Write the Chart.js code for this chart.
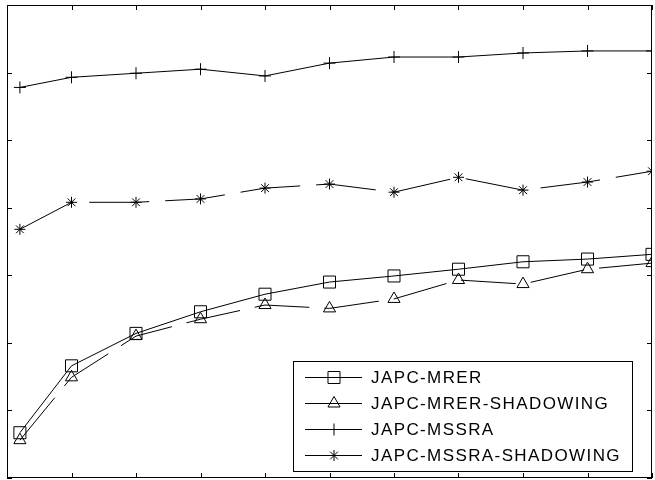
<!DOCTYPE html>
<html>
<head>
<meta charset="utf-8">
<script src="https://cdn.jsdelivr.net/npm/chart.js@4/dist/chart.umd.min.js"></script>
<style>
  html, body { margin: 0; padding: 0; background: #fff; }
  #wrap { width: 655px; height: 480px; }
</style>
</head>
<body>
<div id="wrap"><canvas id="chart"></canvas></div>
<script>
// x positions of the samples (axis runs 0..100, tick every 10)
const xValues = [2, 10, 20, 30, 40, 50, 60, 70, 80, 90, 100];

const mrer = [0.67, 1.66, 2.14, 2.46, 2.72, 2.90, 2.99, 3.09, 3.20, 3.24, 3.31];
const mrerShadowing = [0.56, 1.49, 2.10, 2.35, 2.56, 2.51, 2.65, 2.93, 2.87, 3.09, 3.18];
const mssra = [5.78, 5.93, 5.99, 6.05, 5.95, 6.14, 6.23, 6.23, 6.29, 6.32, 6.32];
const mssraShadowing = [3.68, 4.08, 4.08, 4.13, 4.29, 4.35, 4.23, 4.45, 4.26, 4.38, 4.54];

const seriesNames = ['JAPC-MRER', 'JAPC-MRER-SHADOWING', 'JAPC-MSSRA', 'JAPC-MSSRA-SHADOWING'];

function toPoints(values) {
    return values.map((v, i) => ({ x: xValues[i], y: v }));
}

function makeSet(label, values, style, radius, dash) {
    return {
        label: label,
        data: toPoints(values),
        borderColor: '#000',
        borderWidth: 1,
        borderDash: dash,
        backgroundColor: 'rgba(0,0,0,0)',
        pointStyle: style,
        pointRadius: radius,
        pointBorderColor: '#000',
        pointBorderWidth: 1,
        pointBackgroundColor: 'rgba(0,0,0,0)',
        tension: 0,
        fill: false
    };
}

const datasets = [
    makeSet(seriesNames[0], mrer, 'rect', 8.5, []),
    makeSet(seriesNames[1], mrerShadowing, 'triangle', 7, [55, 15]),
    makeSet(seriesNames[2], mssra, 'cross', 6, []),
    makeSet(seriesNames[3], mssraShadowing, 'star', 5.5, [60, 16])
];

// box, inward ticks on all four sides, and the boxed legend
const framePlugin = {
    id: 'frame',
    afterDraw(chart) {
        const ctx = chart.ctx;
        const area = chart.chartArea;
        const xs = chart.scales.x;
        const ys = chart.scales.y;
        const len = 5;

        ctx.save();
        ctx.strokeStyle = '#000';
        ctx.lineWidth = 1;
        ctx.setLineDash([]);
        ctx.strokeRect(Math.round(area.left) + 0.5, Math.round(area.top) + 0.5,
            Math.round(area.right - area.left) - 1, Math.round(area.bottom - area.top) - 1);

        ctx.beginPath();
        xs.ticks.forEach(t => {
            const px = Math.round(xs.getPixelForValue(t.value)) + 0.5;
            ctx.moveTo(px, area.bottom);
            ctx.lineTo(px, area.bottom - len);
            ctx.moveTo(px, area.top);
            ctx.lineTo(px, area.top + len);
        });
        ys.ticks.forEach(t => {
            const py = Math.round(ys.getPixelForValue(t.value)) + 0.5;
            ctx.moveTo(area.left, py);
            ctx.lineTo(area.left + len, py);
            ctx.moveTo(area.right, py);
            ctx.lineTo(area.right - len, py);
        });
        ctx.stroke();

        // legend
        const boxL = 293, boxT = 361, boxR = 632, boxB = 471;
        ctx.fillStyle = '#fff';
        ctx.fillRect(boxL, boxT, boxR - boxL, boxB - boxT);
        ctx.strokeRect(boxL + 0.5, boxT + 0.5, boxR - boxL, boxB - boxT);

        ctx.font = '17px "Liberation Sans", Arial, sans-serif';
        ctx.letterSpacing = '1.4px';
        ctx.textBaseline = 'alphabetic';
        chart.data.datasets.forEach((ds, i) => {
            const y = 377 + i * 26;
            ctx.beginPath();
            ctx.moveTo(305, y + 0.5);
            ctx.lineTo(362, y + 0.5);
            ctx.stroke();
            ctx.fillStyle = 'rgba(0,0,0,0)';
            Chart.helpers.drawPoint(ctx, {
                pointStyle: ds.pointStyle,
                radius: ds.pointRadius,
                rotation: 0,
                borderWidth: 1
            }, 334, y + 0.5);
            ctx.fillStyle = '#000';
            ctx.fillText(ds.label, 371, y + 6);
        });
        ctx.restore();
    }
};

new Chart(document.getElementById('chart'), {
    type: 'line',
    data: { datasets: datasets },
    options: {
        responsive: true,
        maintainAspectRatio: false,
        animation: false,
        layout: { autoPadding: false, padding: { left: 7, top: 5, right: 3, bottom: 2 } },
        plugins: {
            legend: { display: false },
            tooltip: { enabled: false }
        },
        scales: {
            x: {
                type: 'linear',
                min: 0,
                max: 100,
                ticks: { display: false, stepSize: 10 },
                grid: { display: false },
                border: { display: false },
                afterFit: s => { s.height = 0; }
            },
            y: {
                min: 0,
                max: 7,
                ticks: { display: false, stepSize: 1 },
                grid: { display: false },
                border: { display: false },
                afterFit: s => { s.width = 0; }
            }
        }
    },
    plugins: [framePlugin]
});
</script>
</body>
</html>
